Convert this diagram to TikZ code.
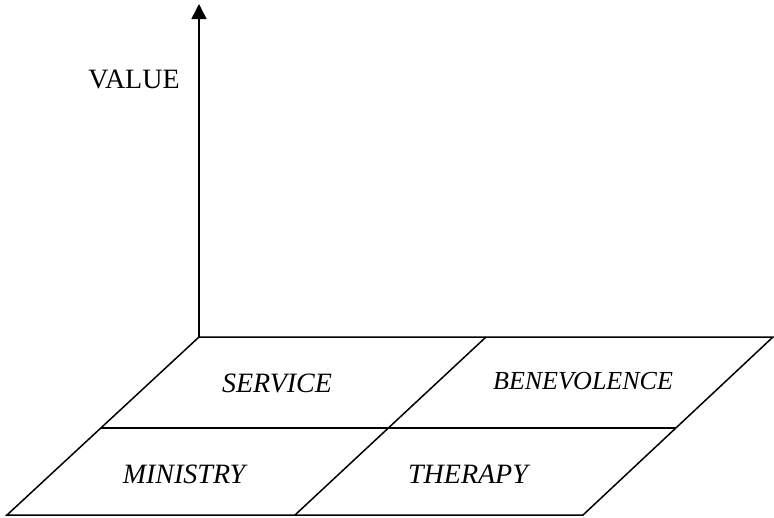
\documentclass[tikz,border=0pt]{standalone}
\usepackage{fontspec}
\setmainfont{Liberation Serif}
\usetikzlibrary{arrows.meta,calc}
\begin{document}
\begin{tikzpicture}[x=1pt,y=-1pt,
  ln/.style={line width=1.5pt,line join=miter},
  lbl/.style={font=\fontsize{28}{30}\selectfont\itshape,inner sep=0pt,anchor=center},
  axlbl/.style={font=\fontsize{28}{30}\selectfont,inner sep=0pt,anchor=center}]
\useasboundingbox (0,0) rectangle (774,517);
\coordinate (O) at (199,337);
\coordinate (top) at (199,4);
\coordinate (A) at (199,337);
\coordinate (B) at (773,337);
\coordinate (C) at (583,515);
\coordinate (D) at (7,515);
\coordinate (ML) at ($(A)!0.511!(D)$);
\coordinate (MR) at ($(B)!0.511!(C)$);
\coordinate (MT) at ($(A)!0.5!(B)$);
\coordinate (MB) at ($(D)!0.5!(C)$);
\draw[ln,-{Triangle[length=15pt,width=15pt]}] (O) -- (top);
\draw[ln] (A) -- (B) -- (C) -- (D) -- cycle;
\draw[ln] (ML) -- (MR);
\draw[ln] (MT) -- (MB);
\node[axlbl] (value) at (134,79) {VALUE};
\node[lbl] (service) at (277,383) {SERVICE};
\node[lbl,font=\fontsize{26}{28}\selectfont\itshape] (benev) at (583,381) {BENEVOLENCE};
\node[lbl] (ministry) at (184,474) {MINISTRY};
\node[lbl] (therapy) at (468,474) {THERAPY};
\end{tikzpicture}
\end{document}
